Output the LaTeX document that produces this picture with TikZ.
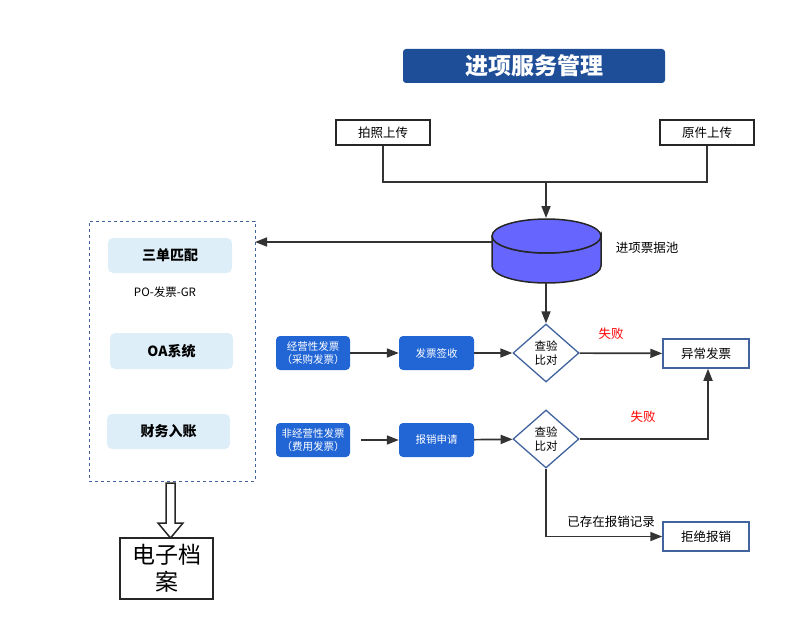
\documentclass[tikz,border=0pt]{standalone}
\usepackage{fontspec}
\setmainfont{Noto Sans CJK SC}
\usetikzlibrary{arrows.meta,shapes.geometric}
\definecolor{tb}{HTML}{1F4E99}
\definecolor{bb}{HTML}{2266D6}
\definecolor{lb}{HTML}{DDEEF9}
\definecolor{cy}{HTML}{6666FF}
\definecolor{dl}{HTML}{41639E}
\begin{document}
\begin{tikzpicture}[x=1pt,y=-1pt,
 ln/.style={draw=black!80,line width=1.7pt},
 ar/.style={ln,-{Triangle[length=12pt,width=9pt]}},
 wbox/.style={draw=black!85,line width=1.3pt,fill=white,font=\fontsize{12.5}{14}\selectfont,inner sep=0},
 bbox/.style={fill=bb,rounded corners=4pt,text=white,font=\fontsize{10.5}{12.5}\selectfont,align=center,inner sep=0},
 lbox/.style={fill=lb,rounded corners=5pt,font=\bfseries\fontsize{14}{16}\selectfont,inner sep=0},
 dia/.style={diamond,draw=dl,line width=1.3pt,fill=white,minimum width=66pt,minimum height=58pt,inner sep=0,align=center,font=\fontsize{11.5}{13.5}\selectfont},
 ob/.style={draw=dl,line width=1.5pt,fill=white,font=\fontsize{12.5}{14}\selectfont,inner sep=0},
 red/.style={text=red,font=\fontsize{12.5}{14}\selectfont}]
\useasboundingbox (0,0) rectangle (786,631);
\node[fill=tb,rounded corners=3pt,minimum width=262pt,minimum height=34pt,text=white,font=\bfseries\fontsize{23}{25}\selectfont] (title) at (534,66) {进项服务管理};
\node[wbox,minimum width=94pt,minimum height=25pt] (pz) at (383,132.5) {拍照上传};
\node[wbox,minimum width=94pt,minimum height=25pt] (yj) at (707,132.5) {原件上传};
\coordinate (j1) at (383,182); \coordinate (j2) at (707,182); \coordinate (jm) at (546,182);
\draw[ln] (pz.south) -- (j1) -- (j2) -- (yj.south);
\node[inner sep=0,minimum width=109pt,minimum height=66pt] (db) at (546.5,251) {};
\draw[line width=1.5pt,draw=black!85,fill=cy] (492,236) -- (492,266) arc[start angle=180,end angle=360,x radius=54.5pt,y radius=17pt] -- (601,236) arc[start angle=0,end angle=180,x radius=54.5pt,y radius=-17pt];
\draw[line width=1.5pt,draw=black!85,fill=cy] (546.5,236) ellipse[x radius=54.5pt,y radius=17pt];
\coordinate (dbtop) at (546,218); \coordinate (dbbot) at (546,283); \coordinate (dbl) at (492,242);
\draw[ar] (jm) -- (dbtop);
\node[font=\fontsize{12.5}{14}\selectfont] (pool) at (647,248) {进项票据池};
\node[draw=dl,dashed,line width=0.9pt,minimum width=166pt,minimum height=260pt,inner sep=0] (grp) at (172,351) {};
\coordinate (grpr) at (255,242);
\draw[ar] (dbl) -- (grpr);
\node[lbox,minimum width=124pt,minimum height=35pt] (sd) at (170,255.5) {三单匹配};
\node[font=\fontsize{11.5}{13}\selectfont] (po) at (165,292) {PO-发票-GR};
\node[lbox,minimum width=123pt,minimum height=36pt] (oa) at (171.5,351) {OA系统};
\node[lbox,minimum width=123pt,minimum height=35pt] (cw) at (168.5,431.5) {财务入账};
\node[wbox,minimum width=93pt,minimum height=61pt,align=center,font=\fontsize{23}{27}\selectfont] (da) at (166.5,568.5) {电子档\\案};
\draw[draw=black!85,line width=1.5pt,fill=white] (166,483) -- (175,483) -- (175,523) -- (183,523) -- (170.5,538) -- (158,523) -- (166,523) -- cycle;
\node[bbox,minimum width=74pt,minimum height=34pt] (jy) at (313,353) {经营性发票\\（采购发票）};
\node[bbox,minimum width=75pt,minimum height=34pt] (qs) at (436.5,353) {发票签收};
\node[dia] (d1) at (546,353) {查验\\比对};
\node[ob,minimum width=86pt,minimum height=29pt] (yc) at (706,353.5) {异常发票};
\draw[ar] (jy) -- (qs); \draw[ar] (qs) -- (d1); \draw[ar] (d1) -- (yc);
\draw[ar] (dbbot) -- (d1.north);
\node[red] (sb1) at (611,334) {失败};
\node[bbox,minimum width=74pt,minimum height=34pt] (fj) at (313,440) {非经营性发票\\（费用发票）};
\node[bbox,minimum width=75pt,minimum height=34pt] (bx) at (436.5,440) {报销申请};
\node[dia] (d2) at (546,439) {查验\\比对};
\draw[ar] (fj.east)++(11pt,0) -- (bx); \draw[ar] (bx) -- (d2);
\coordinate (c2) at (708,439);
\draw[ar] (d2.east) -- (c2) -- (yc.south -| c2);
\node[red] (sb2) at (643,417) {失败};
\node[ob,minimum width=86pt,minimum height=29pt] (jj) at (706,536.5) {拒绝报销};
\coordinate (c3) at (546,536.5);
\draw[ar] (d2.south) -- (c3) -- (jj.west);
\node[font=\fontsize{12.5}{14}\selectfont] (yc2) at (611,522) {已存在报销记录};
\end{tikzpicture}
\end{document}
